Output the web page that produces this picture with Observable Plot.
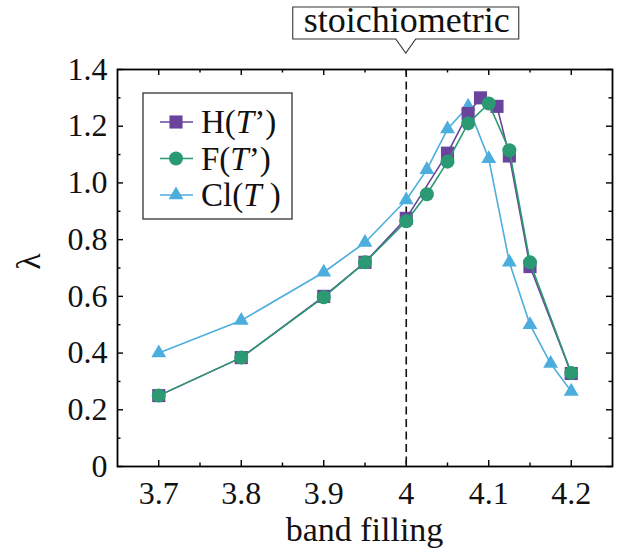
<!DOCTYPE html>
<html><head><meta charset="utf-8">
<script src="https://cdn.jsdelivr.net/npm/d3@7"></script>
<script src="https://cdn.jsdelivr.net/npm/@observablehq/plot@0.6"></script>
<style>body{margin:0;background:#fff}</style>
</head><body><div id="chart"></div>
<script>
// ---- data ----
const fillingH = [3.7, 3.8, 3.9, 3.95, 4.0, 4.05, 4.075, 4.09, 4.11, 4.125, 4.15, 4.2];
const lambdaH  = [0.25, 0.384, 0.60, 0.72, 0.875, 1.105, 1.245, 1.30, 1.27, 1.095, 0.705, 0.328];
const fillingF = [3.7, 3.8, 3.9, 3.95, 4.0, 4.025, 4.05, 4.075, 4.1, 4.125, 4.15, 4.2];
const lambdaF  = [0.25, 0.384, 0.597, 0.72, 0.865, 0.96, 1.075, 1.21, 1.28, 1.115, 0.72, 0.33];
const fillingCl = [3.7, 3.8, 3.9, 3.95, 4.0, 4.025, 4.05, 4.075, 4.1, 4.125, 4.15, 4.175, 4.2];
const lambdaCl  = [0.40, 0.515, 0.685, 0.79, 0.94, 1.047, 1.19, 1.27, 1.085, 0.72, 0.50, 0.363, 0.265];
const seriesKeys = ["H", "F", "Cl"];
const seriesColors = ["#6a449c", "#2b9a72", "#4caedd"];
const seriesSymbols = ["square", "circle", "triangle"];
const seriesLegend = [["H(", "T", "’)"], ["F(", "T", "’)"], ["Cl(", "T", " )"]];
const xTicks = [3.7, 3.8, 3.9, 4.0, 4.1, 4.2];
const xTickLabels = ["3.7", "3.8", "3.9", "4", "4.1", "4.2"];
const xMinor = [3.75, 3.85, 3.95, 4.05, 4.15];
const yTicks = [0, 0.2, 0.4, 0.6, 0.8, 1.0, 1.2, 1.4];
const yTickLabels = ["0", "0.2", "0.4", "0.6", "0.8", "1.0", "1.2", "1.4"];
const yMinor = [0.1, 0.3, 0.5, 0.7, 0.9, 1.1, 1.3];
const stoichiometric = [4];
const annotationText = "stoichiometric";
const xTitle = "band filling";
const yTitle = "λ";

const rows = [];
[[fillingH, lambdaH], [fillingF, lambdaF], [fillingCl, lambdaCl]].forEach(([xs, ys], s) => {
  xs.forEach((x, i) => rows.push({series: seriesKeys[s], x, y: ys[i]}));
});
const order = ["Cl", "H", "F"];

const W = 630, H = 548, mL = 117, mR = 18, mT = 69, mB = 82;
const pW = W - mL - mR, pH = H - mT - mB;
const FONT = "'Liberation Serif', serif";

const dotR = {square: 7.4, circle: 7, triangle: 5.5};

function seriesMarks(key) {
  const s = seriesKeys.indexOf(key);
  const data = rows.filter(d => d.series === key);
  return [
    Plot.line(data, {x: "x", y: "y", stroke: seriesColors[s], strokeWidth: 1.6}),
    Plot.dot(data, {x: "x", y: "y", fill: seriesColors[s], stroke: "none", symbol: () => seriesSymbols[s], r: dotR[seriesSymbols[s]]})
  ];
}

function legend(index, scales, values, dims) {
  const g = d3.create("svg:g").attr("text-anchor", "start");
  const x0 = dims.marginLeft + 26, y0 = dims.marginTop + 24;
  g.append("rect").attr("x", x0).attr("y", y0).attr("width", 149).attr("height", 126)
    .attr("fill", "white").attr("stroke", "#333").attr("stroke-width", 1.3);
  seriesKeys.forEach((k, i) => {
    const cy = y0 + 29 + i * 36.5;
    g.append("line").attr("x1", x0 + 17).attr("x2", x0 + 50).attr("y1", cy).attr("y2", cy)
      .attr("stroke", seriesColors[i]).attr("stroke-width", 1.6);
    const type = {square: d3.symbolSquare, circle: d3.symbolCircle, triangle: d3.symbolTriangle}[seriesSymbols[i]];
    const r = dotR[seriesSymbols[i]];
    g.append("path").attr("d", d3.symbol(type, Math.PI * r * r)()).attr("transform", `translate(${x0 + 33},${cy})`)
      .attr("fill", seriesColors[i]);
    const t = g.append("text").attr("x", x0 + 58).attr("y", cy + 11).attr("font-size", 33).attr("fill", "#111");
    t.append("tspan").text(seriesLegend[i][0]);
    t.append("tspan").attr("font-style", "italic").text(seriesLegend[i][1]);
    t.append("tspan").text(seriesLegend[i][2]);
  });
  return g.node();
}

function callout(index, scales, values, dims) {
  const g = d3.create("svg:g");
  const cx = scales.x(stoichiometric[0]);
  const top = 7, bot = 39, tip = 53, hw = 113;
  g.append("path").attr("d", `M${cx - hw},${top}H${cx + hw}V${bot}H${cx + 10}L${cx},${tip}L${cx - 10},${bot}H${cx - hw}Z`)
    .attr("fill", "white").attr("stroke", "#333").attr("stroke-width", 1.1);
  g.append("text").attr("x", cx + 1).attr("y", bot - 7).attr("text-anchor", "middle").attr("font-size", 36)
    .attr("fill", "#111").text(annotationText);
  // axis titles
  g.append("text").attr("x", dims.marginLeft + (dims.width - dims.marginLeft - dims.marginRight) / 2)
    .attr("y", dims.height - 7).attr("text-anchor", "middle").attr("font-size", 34)
    .attr("fill", "#111").text(xTitle);
  g.append("text").attr("transform", `translate(40,${scales.y(0.7) - 6}) rotate(-90)`)
    .attr("text-anchor", "middle").attr("font-size", 34).attr("fill", "#111").text(yTitle);
  return g.node();
}

const chart = Plot.plot({
  width: W, height: H,
  marginLeft: mL, marginRight: mR, marginTop: mT, marginBottom: mB,
  style: {fontSize: "32px", color: "#111", background: "white", overflow: "visible"},
  x: {domain: [3.65, 4.25]},
  y: {domain: [0, 1.4]},
  marks: [
    Plot.axisX(xTicks, {tickSize: 0, tickPadding: 15, tickFormat: d => xTickLabels[xTicks.indexOf(d)], label: null, fontSize: 32}),
    Plot.axisY(yTicks, {tickSize: 0, tickPadding: 10, tickFormat: d => yTickLabels[yTicks.indexOf(d)], label: null, fontSize: 32}),
    // inward ticks
    Plot.tickX(xTicks, {x: d => d, stroke: "black", strokeWidth: 1.4, insetTop: pH - 6}),
    Plot.tickX(xMinor, {x: d => d, stroke: "black", strokeWidth: 1.4, insetTop: pH - 3.5}),
    Plot.tickX(xTicks, {x: d => d, stroke: "black", strokeWidth: 1.4, insetBottom: pH - 6}),
    Plot.tickX(xMinor, {x: d => d, stroke: "black", strokeWidth: 1.4, insetBottom: pH - 3.5}),
    Plot.tickY(yTicks, {y: d => d, stroke: "black", strokeWidth: 1.4, insetRight: pW - 6}),
    Plot.tickY(yMinor, {y: d => d, stroke: "black", strokeWidth: 1.4, insetRight: pW - 3.5}),
    Plot.tickY(yTicks, {y: d => d, stroke: "black", strokeWidth: 1.4, insetLeft: pW - 6}),
    Plot.tickY(yMinor, {y: d => d, stroke: "black", strokeWidth: 1.4, insetLeft: pW - 3.5}),
    Plot.ruleX(stoichiometric, {x: d => d, stroke: "#111", strokeWidth: 1.6, strokeDasharray: "8,4.5"}),
    ...order.flatMap(seriesMarks),
    legend,
    Plot.frame({stroke: "black", strokeWidth: 1.8}),
    callout
  ]
});
d3.select(chart).selectAll("text, tspan").style("font-family", FONT);
d3.select(chart).style("font-family", FONT);
document.getElementById("chart").append(chart);
</script>
</body></html>
